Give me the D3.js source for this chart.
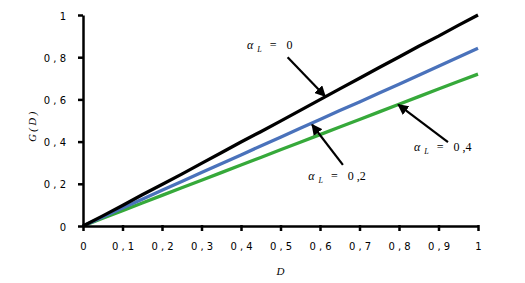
<!DOCTYPE html>
<html>
<head>
<meta charset="utf-8">
<script src="https://cdn.jsdelivr.net/npm/d3@7"></script>
<style>
body { margin: 0; background: #fff; }
svg { display: block; }
</style>
</head>
<body>
<div id="chart"></div>
<script>
var d_values = [0, 0.05, 0.1, 0.15, 0.2, 0.25, 0.3, 0.35, 0.4, 0.45, 0.5, 0.55, 0.6, 0.65, 0.7, 0.75, 0.8, 0.85, 0.9, 0.95, 1];
var g_alpha0 = [0, 0.048, 0.097, 0.148, 0.197, 0.246, 0.297, 0.347, 0.398, 0.447, 0.497, 0.548, 0.599, 0.65, 0.7, 0.751, 0.801, 0.852, 0.9, 0.951, 1.0];
var g_alpha02 = [0, 0.043, 0.085, 0.127, 0.169, 0.211, 0.253, 0.295, 0.337, 0.379, 0.421, 0.463, 0.505, 0.547, 0.588, 0.63, 0.672, 0.715, 0.757, 0.8, 0.842];
var g_alpha04 = [0, 0.037, 0.073, 0.109, 0.145, 0.181, 0.217, 0.253, 0.289, 0.325, 0.361, 0.397, 0.433, 0.469, 0.505, 0.541, 0.577, 0.613, 0.649, 0.685, 0.72];
var series_colors = ["#000000", "#4a72bb", "#36a93a"];
var x_ticks = [0, 0.1, 0.2, 0.3, 0.4, 0.5, 0.6, 0.7, 0.8, 0.9, 1];
var y_ticks = [0, 0.2, 0.4, 0.6, 0.8, 1];
// annotation: label value, label position (D,G), arrow tail (D,G), arrow head (D,G)
var ann_values = ["0", "0 ,2", "0 ,4"];
var ann_label_pos = [[0.415, 0.84], [0.57, 0.218], [0.838, 0.355]];
var ann_tail = [[0.518, 0.8], [0.658, 0.29], [0.924, 0.398]];
var ann_head = [[0.613, 0.615], [0.58, 0.48], [0.798, 0.575]];

var width = 525, height = 283;
var margin = {top: 15, right: 47, bottom: 57, left: 83};
var nb = "\u00a0";

var svg = d3.select("#chart").append("svg")
    .attr("width", width)
    .attr("height", height);

var x = d3.scaleLinear().domain([0, 1]).range([margin.left, width - margin.right]);
var y = d3.scaleLinear().domain([0, 1]).range([height - margin.bottom, margin.top]);

function fmt(v) {
    return v === 0 || v === 1 ? String(v) : String(+v.toFixed(1)).replace(".", nb + "," + nb);
}

svg.append("defs").append("marker")
    .attr("id", "arrow")
    .attr("viewBox", "0 0 10 10")
    .attr("refX", 9)
    .attr("refY", 5)
    .attr("markerWidth", 5)
    .attr("markerHeight", 5)
    .attr("markerUnits", "strokeWidth")
    .attr("orient", "auto")
    .append("path")
    .attr("d", "M0,0 L10,5 L0,10 z")
    .attr("fill", "#000");

// lines
var all_series = [g_alpha0, g_alpha02, g_alpha04];
var line = d3.line()
    .x(function(d, i) { return x(d_values[i]); })
    .y(function(d) { return y(d); });

svg.selectAll(".series")
    .data(all_series.slice().reverse())
    .enter()
    .append("path")
    .attr("class", "series")
    .attr("d", line)
    .attr("fill", "none")
    .attr("stroke", function(d, i) { return series_colors[2 - i]; })
    .attr("stroke-width", 3.3)
    .attr("stroke-linejoin", "round");

// axes
var x_axis = svg.append("g")
    .attr("transform", "translate(0," + y(0) + ")")
    .call(d3.axisBottom(x).tickValues(x_ticks).tickFormat(fmt).tickSize(5).tickSizeOuter(0).tickPadding(12));
var y_axis = svg.append("g")
    .attr("transform", "translate(" + x(0) + ",0)")
    .call(d3.axisLeft(y).tickValues(y_ticks).tickFormat(fmt).tickSize(5).tickSizeOuter(0).tickPadding(12));

[x_axis, y_axis].forEach(function(ax) {
    ax.select(".domain").attr("stroke", "#000").attr("stroke-width", 2.5);
    ax.selectAll(".tick line").attr("stroke", "#000").attr("stroke-width", 2.5);
    ax.selectAll(".tick text")
        .attr("fill", "#000")
        .attr("font-family", "DejaVu Sans, Verdana, sans-serif")
        .attr("font-size", 10);
});
x_axis.selectAll(".tick line").attr("y1", -1);
y_axis.selectAll(".tick text").attr("dy", "0.4em");

// axis titles
svg.append("text")
    .attr("x", x(0.5))
    .attr("y", 275)
    .attr("text-anchor", "middle")
    .attr("font-family", "Liberation Serif, serif")
    .attr("font-style", "italic")
    .attr("font-size", 11)
    .text("D");

svg.append("text")
    .attr("transform", "translate(36," + y(0.47) + ") rotate(-90)")
    .attr("text-anchor", "middle")
    .attr("font-family", "Liberation Serif, serif")
    .attr("font-style", "italic")
    .attr("font-size", 10.5)
    .text("G" + nb + "(" + nb + "D" + nb + ")");

// annotations
ann_values.forEach(function(v, i) {
    svg.append("line")
        .attr("x1", x(ann_tail[i][0]))
        .attr("y1", y(ann_tail[i][1]))
        .attr("x2", x(ann_head[i][0]))
        .attr("y2", y(ann_head[i][1]))
        .attr("stroke", "#000")
        .attr("stroke-width", 2.2)
        .attr("marker-end", "url(#arrow)");

    var t = svg.append("text")
        .attr("x", x(ann_label_pos[i][0]))
        .attr("y", y(ann_label_pos[i][1]))
        .attr("font-family", "Liberation Serif, serif")
        .attr("font-size", 12);
    t.append("tspan").attr("font-style", "italic").text("\u03B1");
    t.append("tspan").attr("font-style", "italic").attr("font-size", 8).attr("dx", 4).attr("dy", 3).text("L");
    t.append("tspan").attr("dx", 8).attr("dy", -3).text("=");
    t.append("tspan").attr("dx", 10).text(v.replace(" ", nb));
});
</script>
</body>
</html>
